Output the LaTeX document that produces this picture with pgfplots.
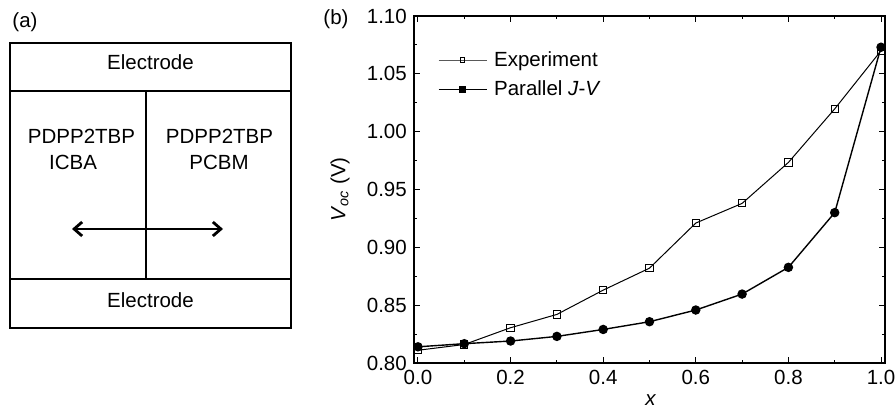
\documentclass[border=0pt]{standalone}
\usepackage{fontspec}
\setmainfont{Liberation Sans}
\usepackage{pgfplots}
\pgfplotsset{compat=1.18}
\usetikzlibrary{arrows.meta}

\begin{document}
\fontsize{10.25}{12}\selectfont
\begin{tikzpicture}
\useasboundingbox (0,0) rectangle (448pt,-208.5pt);

% panel (a): device sketch, in image pixels (y down)
\begin{scope}[x=0.5pt,y=-0.5pt]
  \draw[line width=1pt] (10,42.7) rectangle (291,327.7);
  \draw[line width=1pt] (10,90.7) -- (291,90.7);
  \draw[line width=1pt] (10,279) -- (291,279);
  \draw[line width=1pt] (146,90.7) -- (146,279);
  \draw[line width=1.4pt,{Straight Barb[length=4pt,width=7pt]}-{Straight Barb[length=4pt,width=7pt]}] (72,229) -- (223,229);
  \node at (150.5,62) {Electrode};
  \node at (150.5,300) {Electrode};
  \node at (81.5,136) {PDPP2TBP};
  \node at (73,162) {ICBA};
  \node at (219.5,136) {PDPP2TBP};
  \node at (219,162) {PCBM};
  \node at (25,22) {(a)};
  \node at (336,19) {(b)};
\end{scope}

\begin{axis}[
    at={(207pt,-181.5pt)}, anchor=south west,
    scale only axis,
    width=235.5pt, height=173.5pt,
    xmin=-0.0086, xmax=1.0086,
    ymin=0.80, ymax=1.10,
    xtick={0,0.2,0.4,0.6,0.8,1.0},
    ytick={0.80,0.85,0.90,0.95,1.00,1.05,1.10},
    minor x tick num=1, minor y tick num=1,
    tick align=inside,
    major tick length=3pt, minor tick length=1.6pt,
    every tick/.style={black, line width=0.5pt},
    axis line style={line width=0.7pt},
    /pgf/number format/assume math mode=true,
    xticklabel style={/pgf/number format/.cd, fixed, zerofill, precision=1},
    yticklabel style={/pgf/number format/.cd, fixed, zerofill, precision=2},
    scaled ticks=false,
    xlabel={\textit{x}},
    ylabel={\textit{V}\textsubscript{\textit{oc}} (V)},
    xlabel style={at={(axis description cs:0.503,-0.108)}, anchor=center},
    ylabel style={at={(axis description cs:-0.157,0.5)}, anchor=center, rotate=0},
    legend style={at={(axis description cs:0.05,0.908)}, anchor=north west,
        draw=none, fill=none, inner sep=0pt, row sep=2.5pt,
        nodes={inner xsep=3.5pt, inner ysep=1.5pt, anchor=west}},
    legend cell align=left,
    legend image code/.code={%
        \draw[mark repeat=2,mark phase=2,#1] plot coordinates {(0pt,0pt) (12pt,0pt) (24pt,0pt)};},
]
\addlegendimage{gray!70!black, line width=0.5pt, mark=square, mark size=1.2pt, mark options={black, fill=white, line width=0.5pt}}
\addlegendentry{Experiment}
\addlegendimage{black, line width=0.6pt, mark=square*, mark size=1.5pt}
\addlegendentry{Parallel \textit{J}-\textit{V}}

\addplot[forget plot, black, line width=0.5pt, mark=square, mark size=1.8pt,
    mark options={fill=white, line width=0.5pt}]
    coordinates {(0.0,0.811) (0.1,0.816) (0.2,0.8305) (0.3,0.842) (0.4,0.863)
                 (0.5,0.882) (0.6,0.921) (0.7,0.938) (0.8,0.9734) (0.9,1.0197) (1.0,1.070)};
\addplot[forget plot, black, line width=0.7pt, mark=*, mark size=2pt]
    coordinates {(0.0,0.814) (0.1,0.8167) (0.2,0.819) (0.3,0.823) (0.4,0.829)
                 (0.5,0.8357) (0.6,0.8458) (0.7,0.8596) (0.8,0.8827) (0.9,0.930) (1.0,1.073)};
\end{axis}
\end{tikzpicture}
\end{document}
